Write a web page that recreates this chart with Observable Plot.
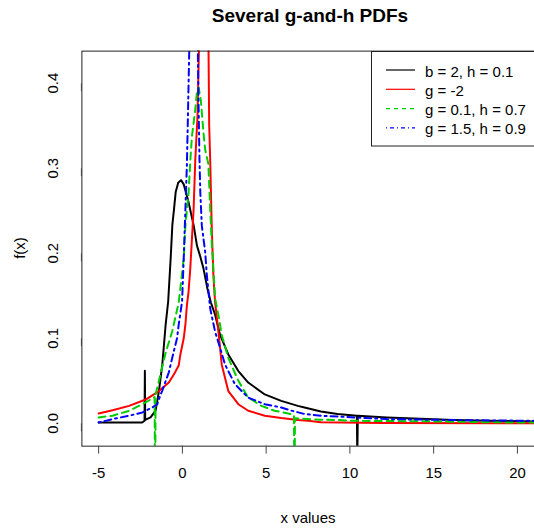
<!DOCTYPE html>
<html><head><meta charset="utf-8">
<script src="https://cdn.jsdelivr.net/npm/d3@7"></script>
<script src="https://cdn.jsdelivr.net/npm/@observablehq/plot@0.6"></script>
<style>
html,body{margin:0;padding:0;background:#fff;overflow:hidden;}
#wrap{position:relative;width:534px;height:529px;overflow:hidden;font-family:"Liberation Sans",Arial,sans-serif;color:#000;}
#wrap svg{position:absolute;left:0;top:0;}
.lbl{position:absolute;white-space:nowrap;line-height:1;}
</style></head><body><div id="wrap"></div>
<script>
const titleText = "Several g-and-h PDFs";
const xLabel = "x values";
const yLabel = "f(x)";
const xTicks = [-5, 0, 5, 10, 15, 20];
const yTicks = [0, 0.1, 0.2, 0.3, 0.4];
const seriesNames = ["b = 2, h = 0.1", "g = -2", "g = 0.1, h = 0.7", "g = 1.5, h = 0.9"];
const seriesColors = ["#000000", "#ff0000", "#00cd00", "#0000ff"];
const seriesDash = [null, null, "7,5", "2,4,7,4"];

// b = 2, h = 0.1
const blackPts = [[-5,0.001],[-3.5,0.001],[-2.4,0.001],[-2.26,0.003],[-2.24,0.062],[-2.22,0.004],[-1.9,0.007],[-1.6,0.015],[-1.4,0.038],[-1.2,0.069],[-1.0,0.116],[-0.85,0.143],[-0.7,0.194],[-0.6,0.233],[-0.5,0.252],[-0.4,0.272],[-0.25,0.283],[-0.08,0.286],[0.08,0.281],[0.37,0.26],[0.67,0.233],[0.87,0.209],[1.07,0.196],[1.26,0.182],[1.5,0.158],[1.7,0.142],[1.95,0.128],[2.25,0.104],[2.74,0.081],[3.34,0.0615],[3.93,0.048],[4.92,0.034],[5.9,0.0265],[6.89,0.0206],[7.29,0.0187],[8.27,0.014],[9.26,0.0109],[10.42,0.009],[10.44,-0.05],[10.47,0.009],[12.2,0.007],[13.8,0.0058],[16.2,0.0039],[18.1,0.0031],[21,0.0022]];
// g = -2
const redPts = [[-5,0.0117],[-4.17,0.0155],[-3.18,0.0206],[-2.19,0.028],[-1.4,0.038],[-0.81,0.048],[-0.51,0.0575],[-0.22,0.068],[-0.12,0.081],[0.08,0.1],[0.18,0.116],[0.27,0.139],[0.37,0.155],[0.47,0.182],[0.67,0.252],[0.77,0.31],[0.9,0.36],[1.0,0.45],[1.25,0.9],[1.5,0.5],[1.56,0.44],[1.6,0.35],[1.66,0.31],[1.75,0.2325],[1.85,0.174],[1.95,0.143],[2.15,0.108],[2.35,0.069],[2.74,0.038],[3.34,0.0225],[3.93,0.0148],[4.92,0.009],[5.9,0.0062],[6.89,0.0039],[7.5,0.0031],[8.27,0.0012],[12,0.0003],[21,0.0002]];
// g = 0.1, h = 0.7
const greenPts = [[-5,0.007],[-4.17,0.009],[-3.18,0.0148],[-2.39,0.0225],[-1.9,0.028],[-1.66,0.031],[-1.63,-0.1],[-1.6,0.034],[-1.4,0.05],[-1.0,0.083],[-0.61,0.108],[-0.22,0.142],[0.08,0.194],[0.18,0.2325],[0.37,0.2715],[0.47,0.308],[0.57,0.3375],[0.77,0.369],[0.87,0.39],[0.97,0.395],[1.1,0.38],[1.26,0.3415],[1.36,0.322],[1.55,0.305],[1.66,0.252],[1.75,0.213],[1.85,0.182],[1.95,0.147],[2.15,0.1275],[2.35,0.104],[2.74,0.077],[3.34,0.05],[3.93,0.0303],[4.72,0.0206],[5.5,0.0148],[6.49,0.0109],[6.66,0.0095],[6.69,-0.1],[6.72,0.006],[7.48,0.005],[8.27,0.0043],[9.26,0.0039],[10.25,0.003],[15.2,0.0023],[18.5,0.0012],[21,0.001]];
// g = 1.5, h = 0.9
const bluePts = [[-5,0.001],[-4.17,0.005],[-3.18,0.009],[-2.39,0.0128],[-1.8,0.0187],[-1.5,0.0225],[-1.3,0.034],[-1.21,0.038],[-0.81,0.06],[-0.51,0.085],[-0.32,0.1],[-0.22,0.116],[-0.02,0.143],[0.08,0.194],[0.18,0.252],[0.27,0.305],[0.33,0.361],[0.41,0.439],[0.55,0.55],[0.7,0.6],[0.85,0.5],[0.92,0.44],[0.97,0.37],[1.02,0.31],[1.07,0.2715],[1.16,0.2325],[1.36,0.2015],[1.46,0.174],[1.66,0.135],[1.95,0.108],[2.25,0.0887],[2.55,0.069],[3.14,0.0459],[3.93,0.0303],[4.92,0.0225],[5.9,0.0187],[6.5,0.015],[7.29,0.011],[8.27,0.009],[10.25,0.007],[12.2,0.005],[16.2,0.0039],[21,0.003]];

const allSeries = [blackPts, redPts, greenPts, bluePts];
const FONT = '"Liberation Sans", Arial, sans-serif';

const lineMarks = allSeries.map((pts, i) => Plot.line(pts, {
  x: d => d[0], y: d => d[1],
  stroke: seriesColors[i], strokeWidth: 2,
  strokeDasharray: seriesDash[i] || undefined,
  clip: true
}));

const plot = Plot.plot({
  width: 538, height: 529,
  marginLeft: 82, marginRight: 0, marginTop: 51, marginBottom: 80,
  style: {fontFamily: FONT, fontSize: "15px", background: "white", color: "#000"},
  x: {domain: [-6, 21.02]},
  y: {domain: [-0.0268, 0.4377]},
  marks: [
    ...lineMarks,
    Plot.frame({stroke: "#222", strokeWidth: 1}),
    Plot.axisX({ticks: xTicks, tickSize: 8, tickPadding: 13, tickFormat: d => String(d), label: null, fontSize: 15, stroke: "#444"}),
    Plot.axisY({ticks: yTicks, tickSize: 8, tickPadding: 21, tickFormat: d => d.toFixed(1), rotate: -90, textAnchor: "middle", label: null, fontSize: 15, stroke: "#444"})
  ]
});

const wrap = document.getElementById("wrap");
wrap.appendChild(plot);

function addLabel(text, cx, cy, css, rot) {
  const el = document.createElement("div");
  el.className = "lbl";
  el.textContent = text;
  Object.assign(el.style, css);
  el.style.left = cx + "px";
  el.style.top = cy + "px";
  el.style.transform = "translate(-50%,-50%)" + (rot ? " rotate(" + rot + "deg)" : "");
  wrap.appendChild(el);
}
addLabel(titleText, 310, 15, {fontSize: "19px", fontWeight: "bold"});
addLabel(xLabel, 308, 517, {fontSize: "15px"});
addLabel(yLabel, 19, 248, {fontSize: "15px"}, -90);

// legend
const ns = "http://www.w3.org/2000/svg";
const leg = document.createElementNS(ns, "svg");
leg.setAttribute("width", 534); leg.setAttribute("height", 160);
leg.style.position = "absolute"; leg.style.left = "0px"; leg.style.top = "0px";
const box = document.createElementNS(ns, "rect");
box.setAttribute("x", 371.5); box.setAttribute("y", 51.5);
box.setAttribute("width", 200); box.setAttribute("height", 94.5);
box.setAttribute("fill", "white"); box.setAttribute("stroke", "#222");
leg.appendChild(box);
seriesNames.forEach((name, i) => {
  const yy = 70 + i * 19.3;
  const ln = document.createElementNS(ns, "line");
  ln.setAttribute("x1", 386); ln.setAttribute("x2", 415);
  ln.setAttribute("y1", yy); ln.setAttribute("y2", yy);
  ln.setAttribute("stroke", seriesColors[i]); ln.setAttribute("stroke-width", 1.2);
  if (seriesDash[i]) ln.setAttribute("stroke-dasharray", i === 2 ? "4,4" : "1,3,4,3");
  leg.appendChild(ln);
  const tx = document.createElementNS(ns, "text");
  tx.setAttribute("x", 425); tx.setAttribute("y", yy + 1);
  tx.setAttribute("dominant-baseline", "central");
  tx.setAttribute("font-family", FONT); tx.setAttribute("font-size", 15);
  tx.textContent = name;
  leg.appendChild(tx);
});
wrap.appendChild(leg);
</script>
</body></html>
